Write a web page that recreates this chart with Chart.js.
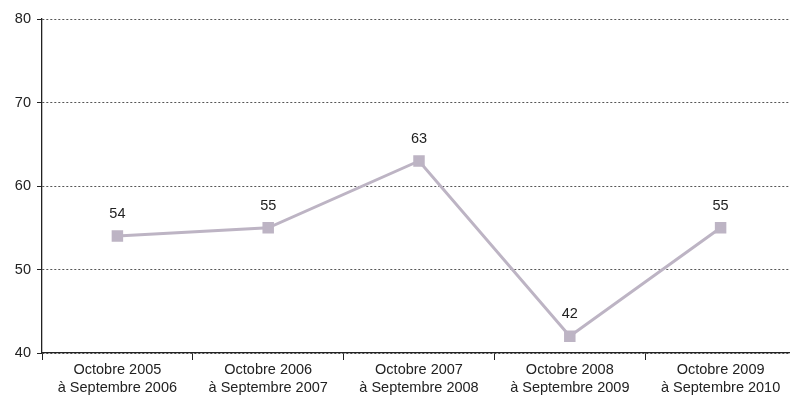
<!DOCTYPE html>
<html>
<head>
<meta charset="utf-8">
<script src="https://cdn.jsdelivr.net/npm/chart.js@4.4.4/dist/chart.umd.min.js"></script>
<style>
  html, body { margin: 0; padding: 0; background: #fff; overflow: hidden; }
  #wrap { width: 805px; height: 397px; }
</style>
</head>
<body>
<div id="wrap"><canvas id="chart"></canvas></div>
<script>
const categories = [
  ["Octobre 2005", "à Septembre 2006"],
  ["Octobre 2006", "à Septembre 2007"],
  ["Octobre 2007", "à Septembre 2008"],
  ["Octobre 2008", "à Septembre 2009"],
  ["Octobre 2009", "à Septembre 2010"]
]
const values = [54, 55, 63, 42, 55]
const yTicks = [40, 50, 60, 70, 80]

const lineColor = "#bdb4c4"
const fontFamily = "'Liberation Sans', Arial, sans-serif"

// draws the value above each point
const valueLabels = {
  id: "valueLabels",
  afterDatasetsDraw(chart) {
    const ctx = chart.ctx
    const meta = chart.getDatasetMeta(0)
    ctx.save()
    ctx.font = "14.5px " + fontFamily
    ctx.fillStyle = "#222"
    ctx.textAlign = "center"
    ctx.textBaseline = "middle"
    meta.data.forEach((pt, i) => {
      ctx.fillText(values[i], pt.x, pt.y - 22)
    })
    ctx.restore()
  }
}

new Chart(document.getElementById("chart"), {
  type: "line",
  data: {
    labels: categories,
    datasets: [{
      data: values,
      borderColor: lineColor,
      backgroundColor: lineColor,
      borderWidth: 3,
      pointStyle: "rect",
      pointRadius: 6,
      pointHoverRadius: 6,
      tension: 0
    }]
  },
  options: {
    responsive: true,
    maintainAspectRatio: false,
    animation: false,
    layout: { padding: { top: 19, right: 0, left: 0, bottom: 0 } },
    plugins: {
      legend: { display: false },
      tooltip: { enabled: false }
    },
    scales: {
      x: {
        offset: true,
        border: { color: "#222", width: 1.3 },
        grid: {
          offset: true,
          drawOnChartArea: false,
          drawTicks: true,
          tickLength: 7,
          tickColor: "#222",
          tickWidth: 1
        },
        ticks: {
          color: "#222",
          padding: 1,
          maxRotation: 0,
          font: { family: fontFamily, size: 14.5, lineHeight: 1.25 }
        },
        afterFit(scale) { scale.height = 44 }
      },
      y: {
        min: 40,
        max: 80,
        afterBuildTicks(scale) { scale.ticks = yTicks.map(v => ({ value: v })) },
        border: { color: "#222", width: 1.3, dash: [2, 2] },
        grid: {
          color: "#555",
          lineWidth: 1,
          tickBorderDash: [],
          tickColor: "#222",
          tickLength: 5,
          drawTicks: true
        },
        ticks: {
          color: "#222",
          padding: 6,
          font: { family: fontFamily, size: 14.5 }
        },
        afterFit(scale) { scale.width = 42 }
      }
    }
  },
  plugins: [valueLabels]
})
</script>
</body>
</html>
